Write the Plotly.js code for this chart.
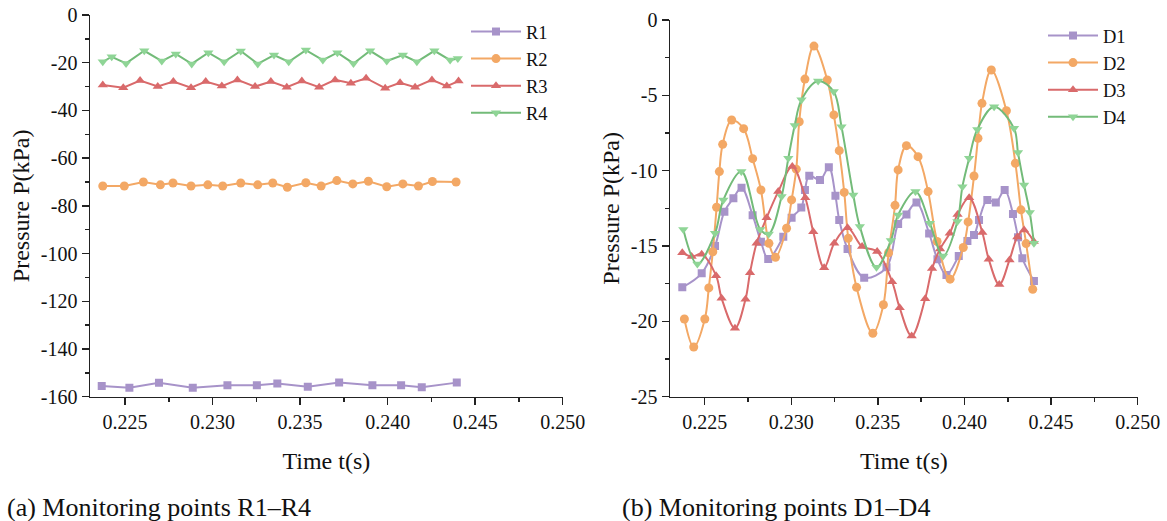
<!DOCTYPE html>
<html>
<head>
<meta charset="utf-8">
<script src="https://cdn.plot.ly/plotly-3.0.1.min.js"></script>
<style>
  html, body { margin: 0; padding: 0; background: #fff; }
  #chart { width: 1167px; height: 521px; }
</style>
</head>
<body>
<div id="chart"></div>
<script>
// ---- Monitoring points R1–R4 (time in s, pressure in kPa) ----
const tR1 = [0.22367, 0.22525, 0.22694, 0.22887, 0.23085, 0.23253, 0.23370, 0.23544, 0.23723, 0.23913, 0.24077, 0.24195, 0.24395];
const pR1 = [-155.5, -156.2, -154.2, -156.2, -155.2, -155.2, -154.5, -155.8, -154.1, -155.2, -155.2, -156.0, -154.1];

const tR2 = [0.22373, 0.22496, 0.22605, 0.22702, 0.22774, 0.22877, 0.22973, 0.23058, 0.23161, 0.23258, 0.23344, 0.23427, 0.23533, 0.23620, 0.23710, 0.23801, 0.23890, 0.23995, 0.24087, 0.24176, 0.24256, 0.24391];
const pR2 = [-71.7, -71.7, -70.0, -71.2, -70.4, -71.7, -71.2, -71.7, -70.4, -71.2, -70.4, -72.2, -70.3, -71.7, -69.4, -70.8, -69.7, -72.0, -70.8, -71.7, -69.8, -70.0];

const tR3 = [0.22373, 0.22490, 0.22586, 0.22687, 0.22776, 0.22877, 0.22961, 0.23053, 0.23142, 0.23243, 0.23333, 0.23424, 0.23510, 0.23609, 0.23700, 0.23790, 0.23877, 0.23986, 0.24071, 0.24157, 0.24253, 0.24338, 0.24405];
const pR3 = [-29.3, -30.5, -27.5, -30.0, -27.9, -30.5, -27.9, -29.8, -27.2, -30.0, -27.9, -30.3, -27.7, -30.3, -27.2, -28.6, -26.5, -30.7, -28.4, -30.3, -27.2, -29.8, -27.7];

const tR4 = [0.22373, 0.22424, 0.22506, 0.22610, 0.22710, 0.22790, 0.22881, 0.22976, 0.23066, 0.23161, 0.23258, 0.23351, 0.23435, 0.23533, 0.23630, 0.23713, 0.23805, 0.23900, 0.23995, 0.24087, 0.24167, 0.24267, 0.24357, 0.24401];
const pR4 = [-19.6, -17.5, -20.3, -15.0, -19.3, -16.3, -20.5, -15.8, -19.6, -15.1, -20.5, -16.8, -19.6, -14.7, -18.9, -15.8, -20.3, -15.0, -19.3, -16.8, -19.6, -15.0, -18.9, -18.2];

// ---- Monitoring points D1–D4 ----
const tD1 = [0.22371, 0.22483, 0.22560, 0.22614, 0.22666, 0.22713, 0.22777, 0.22825, 0.22867, 0.22954, 0.23002, 0.23058, 0.23079, 0.23104, 0.23166, 0.23217, 0.23255, 0.23277, 0.23325, 0.23421, 0.23550, 0.23617, 0.23665, 0.23723, 0.23796, 0.23844, 0.23896, 0.23967, 0.24017, 0.24055, 0.24084, 0.24132, 0.24181, 0.24232, 0.24280, 0.24309, 0.24334, 0.24401];
const pD1 = [-17.74, -16.81, -15.0, -12.72, -11.83, -11.13, -12.96, -14.71, -15.86, -14.38, -13.12, -12.45, -11.28, -10.33, -10.62, -9.77, -11.66, -13.27, -15.2, -17.1, -16.41, -13.54, -12.9, -12.12, -14.17, -15.88, -16.92, -15.66, -14.66, -14.27, -13.27, -11.94, -12.12, -11.28, -12.87, -14.42, -15.81, -17.32];

const tD2 = [0.22383, 0.22437, 0.22501, 0.22524, 0.22547, 0.22569, 0.22585, 0.22604, 0.22656, 0.22725, 0.22777, 0.22825, 0.22871, 0.22909, 0.22973, 0.23002, 0.23029, 0.23046, 0.23079, 0.23131, 0.23208, 0.23246, 0.23277, 0.23306, 0.23329, 0.23377, 0.23471, 0.23532, 0.23562, 0.23599, 0.23617, 0.23665, 0.23732, 0.23790, 0.23842, 0.23917, 0.23993, 0.24021, 0.24055, 0.24078, 0.24101, 0.24155, 0.24242, 0.24294, 0.24326, 0.24356, 0.24394];
const pD2 = [-19.84, -21.7, -19.84, -17.78, -15.38, -12.43, -10.06, -8.25, -6.64, -7.21, -9.2, -11.28, -14.82, -15.75, -13.82, -11.94, -9.9, -6.75, -3.92, -1.73, -3.98, -6.3, -8.67, -11.44, -14.49, -17.74, -20.79, -18.9, -15.45, -12.3, -9.95, -8.34, -9.07, -11.39, -14.7, -17.2, -15.1, -13.4, -10.35, -7.85, -5.53, -3.32, -6.02, -9.51, -12.6, -14.84, -17.87];

const tD3 = [0.22371, 0.22425, 0.22483, 0.22566, 0.22598, 0.22675, 0.22736, 0.22762, 0.22800, 0.22858, 0.22925, 0.23006, 0.23081, 0.23127, 0.23190, 0.23248, 0.23325, 0.23409, 0.23496, 0.23582, 0.23626, 0.23695, 0.23773, 0.23813, 0.23859, 0.23915, 0.23960, 0.24027, 0.24103, 0.24140, 0.24201, 0.24260, 0.24305, 0.24344, 0.24400];
const pD3 = [-15.44, -15.7, -15.55, -16.97, -18.47, -20.46, -18.53, -16.77, -14.82, -13.12, -11.39, -9.73, -11.8, -14.05, -16.44, -14.82, -13.78, -15.04, -15.37, -17.37, -19.1, -20.97, -18.5, -16.5, -15.2, -14.15, -12.9, -11.8, -14.1, -15.88, -17.56, -15.92, -14.4, -13.94, -14.7];

const tD4 = [0.22377, 0.22458, 0.22560, 0.22608, 0.22712, 0.22821, 0.22870, 0.22944, 0.22983, 0.23020, 0.23059, 0.23155, 0.23245, 0.23290, 0.23358, 0.23396, 0.23492, 0.23575, 0.23617, 0.23717, 0.23800, 0.23877, 0.23959, 0.23988, 0.24027, 0.24074, 0.24171, 0.24286, 0.24309, 0.24344, 0.24377, 0.24401];
const pD4 = [-13.9, -16.2, -14.15, -11.94, -10.05, -13.9, -14.2, -11.72, -9.18, -7.0, -5.3, -4.05, -4.75, -7.08, -11.61, -13.71, -16.41, -14.64, -12.94, -11.39, -13.49, -15.66, -13.38, -11.06, -9.18, -7.26, -5.75, -7.19, -8.8, -10.95, -12.78, -14.82];

// ---- Tick labels ----
const timeTicks = [0.225, 0.230, 0.235, 0.240, 0.245, 0.250];
const timeLabels = ['0.225', '0.230', '0.235', '0.240', '0.245', '0.250'];
const pressTicksA = [0, -20, -40, -60, -80, -100, -120, -140, -160];
const pressLabelsA = ['0', '-20', '-40', '-60', '-80', '-100', '-120', '-140', '-160'];
const pressTicksB = [0, -5, -10, -15, -20, -25];
const pressLabelsB = ['0', '-5', '-10', '-15', '-20', '-25'];

const FONT = '"Liberation Serif"';
const COL = {
  purple: '#a793c9',
  orange: '#f3a865',
  red: '#d96a6b',
  green: '#73bb79',
  greenMk: '#8fd596'
};

function series(x, y, name, color, symbol, size, xa, ya, legend, shape, mk) {
  return {
    x: x, y: y, name: name, type: 'scatter', mode: 'lines+markers',
    xaxis: xa, yaxis: ya, legend: legend,
    line: { color: color, width: 2, shape: shape, smoothing: 1 },
    marker: { color: mk || color, symbol: symbol, size: size, line: { width: 0 } }
  };
}

const traces = [
  series(tR1, pR1, 'R1', COL.purple, 'square', 8, 'x', 'y', 'legend', 'linear'),
  series(tR2, pR2, 'R2', COL.orange, 'circle', 9, 'x', 'y', 'legend', 'linear'),
  series(tR3, pR3, 'R3', COL.red, 'triangle-up', 9, 'x', 'y', 'legend', 'linear'),
  series(tR4, pR4, 'R4', COL.green, 'triangle-down', 9, 'x', 'y', 'legend', 'linear', COL.greenMk),
  series(tD1, pD1, 'D1', COL.purple, 'square', 8, 'x2', 'y2', 'legend2', 'spline'),
  series(tD2, pD2, 'D2', COL.orange, 'circle', 9, 'x2', 'y2', 'legend2', 'spline'),
  series(tD3, pD3, 'D3', COL.red, 'triangle-up', 9, 'x2', 'y2', 'legend2', 'spline'),
  series(tD4, pD4, 'D4', COL.green, 'triangle-down', 9, 'x2', 'y2', 'legend2', 'spline', COL.greenMk)
];

const W = 1167, H = 521;
const axisCommon = {
  showline: true, linecolor: '#222', linewidth: 1.5,
  ticks: 'outside', ticklen: 7, tickwidth: 1.5, tickcolor: '#222',
  showgrid: false, zeroline: false, fixedrange: true,
  tickfont: { family: FONT, size: 20, color: '#111' },
  tickmode: 'array'
};
function xAxis(domain, anchor) {
  return Object.assign({}, axisCommon, {
    domain: domain, anchor: anchor, range: [0.223, 0.250],
    tickvals: timeTicks, ticktext: timeLabels,
    minor: { dtick: 0.0025, tick0: 0.2225, ticks: 'outside', ticklen: 4, tickwidth: 1.5, tickcolor: '#222', showgrid: false },
    title: { text: 'Time t(s)', font: { family: FONT, size: 24, color: '#111' }, standoff: 20 }
  });
}
function yAxis(domain, anchor, range, vals, labels, minorStep) {
  return Object.assign({}, axisCommon, {
    domain: domain, anchor: anchor, range: range,
    tickvals: vals, ticktext: labels,
    minor: { dtick: minorStep, tick0: 0, ticks: 'outside', ticklen: 4, tickwidth: 1.5, tickcolor: '#222', showgrid: false },
    title: { text: 'Pressure P(kPa)', font: { family: FONT, size: 24, color: '#111' }, standoff: 4 }
  });
}

const legendCommon = {
  font: { family: FONT, size: 18.5, color: '#111' },
  bgcolor: 'rgba(0,0,0,0)', borderwidth: 0,
  xanchor: 'left', yanchor: 'top', itemwidth: 50,
  tracegroupgap: 0
};

const layout = {
  width: W, height: H,
  margin: { l: 0, r: 0, t: 0, b: 0 },
  paper_bgcolor: '#fff', plot_bgcolor: '#fff',
  font: { family: FONT, color: '#111' },
  xaxis: xAxis([90 / W, 562.7 / W], 'y'),
  yaxis: yAxis([1 - 396.7 / H, 1 - 15 / H], 'x', [-160, 0], pressTicksA, pressLabelsA, 10),
  xaxis2: xAxis([670 / W, 1137.7 / W], 'y2'),
  yaxis2: yAxis([1 - 396.7 / H, 1 - 20 / H], 'x2', [-25, 0], pressTicksB, pressLabelsB, 2.5),
  legend: Object.assign({}, legendCommon, { x: 466 / W, y: 1 - 13 / H }),
  legend2: Object.assign({}, legendCommon, { x: 1043 / W, y: 1 - 17 / H }),
  showlegend: true,
  annotations: [
    { text: '(a) Monitoring points R1–R4', xref: 'paper', yref: 'paper', x: 5 / W, y: 1 - 507 / H,
      xanchor: 'left', yanchor: 'middle', showarrow: false, font: { family: FONT, size: 26, color: '#111' } },
    { text: '(b) Monitoring points D1–D4', xref: 'paper', yref: 'paper', x: 620 / W, y: 1 - 507 / H,
      xanchor: 'left', yanchor: 'middle', showarrow: false, font: { family: FONT, size: 26, color: '#111' } }
  ]
};

Plotly.newPlot('chart', traces, layout, { displayModeBar: false, staticPlot: true });
</script>
</body>
</html>
